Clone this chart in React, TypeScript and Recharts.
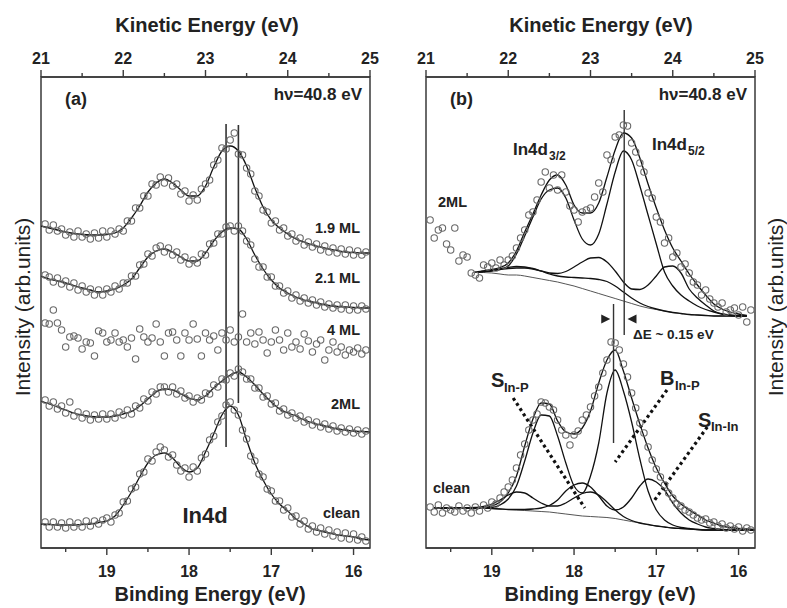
import React from 'react'
import { ComposedChart, Line, Scatter, XAxis, YAxis, ReferenceLine, ReferenceArea, ReferenceDot } from 'recharts'

// binding energy grids (eV)
const fitGrid = [19.8, 19.7, 19.6, 19.5, 19.4, 19.3, 19.2, 19.1, 19, 18.9, 18.8, 18.7, 18.6, 18.5, 18.4, 18.3, 18.2, 18.1, 18, 17.9, 17.8, 17.7, 17.6, 17.5, 17.4, 17.3, 17.2, 17.1, 17, 16.9, 16.8, 16.7, 16.6, 16.5, 16.4, 16.3, 16.2, 16.1, 16, 15.9, 15.8]
const ptGrid = [
  19.75, 19.7, 19.65, 19.6, 19.55, 19.5, 19.45, 19.4, 19.35, 19.3,
  19.25, 19.2, 19.15, 19.1, 19.05, 19, 18.95, 18.9, 18.85, 18.8,
  18.75, 18.7, 18.65, 18.6, 18.55, 18.5, 18.45, 18.4, 18.35, 18.3,
  18.25, 18.2, 18.15, 18.1, 18.05, 18, 17.95, 17.9, 17.85, 17.8,
  17.75, 17.7, 17.65, 17.6, 17.55, 17.5, 17.45, 17.4, 17.35, 17.3,
  17.25, 17.2, 17.15, 17.1, 17.05, 17, 16.95, 16.9, 16.85, 16.8,
  16.75, 16.7, 16.65, 16.6, 16.55, 16.5, 16.45, 16.4, 16.35, 16.3,
  16.25, 16.2, 16.15, 16.1, 16.05, 16, 15.95, 15.9, 15.85,
]
const grid2ML = [19.2, 19.1, 19, 18.9, 18.8, 18.7, 18.6, 18.5, 18.4, 18.3, 18.2, 18.1, 18, 17.9, 17.8, 17.7, 17.6, 17.5, 17.4, 17.3, 17.2, 17.1, 17, 16.9, 16.8, 16.7, 16.6, 16.5, 16.4, 16.3, 16.2, 16.1, 16, 15.9]
const gridClean = [19.7, 19.6, 19.5, 19.4, 19.3, 19.2, 19.1, 19, 18.9, 18.8, 18.7, 18.6, 18.5, 18.4, 18.3, 18.2, 18.1, 18, 17.9, 17.8, 17.7, 17.6, 17.5, 17.4, 17.3, 17.2, 17.1, 17, 16.9, 16.8, 16.7, 16.6, 16.5, 16.4, 16.3, 16.2, 16.1, 16, 15.9, 15.8]

const keTicks = [21, 21.5, 22, 22.5, 23, 23.5, 24, 24.5, 25]
const beTicks = [19.5, 19, 18.5, 18, 17.5, 17, 16.5, 16]

// panel (a): fitted curves
const fit19 = [322, 320, 318, 316, 314.5, 313.5, 313, 313, 313.5, 315, 320, 330, 342, 356, 365, 369, 365, 358, 352, 352, 362, 381, 397, 402, 397, 382, 360, 341, 328, 320, 314, 309, 306, 303, 301, 299, 297.5, 296, 295.5, 295, 295]
const fit21 = [272, 269, 267, 265, 262.5, 260, 258, 256, 257, 259, 263, 269, 280, 291, 297, 299, 296, 291, 287, 287, 295, 307, 316, 320, 319, 309, 293, 279, 268, 260, 255, 251, 248, 246, 244, 242.5, 241.5, 241, 240.5, 240, 240]
const fit2 = [147, 144, 141, 138, 135, 133, 131.5, 131, 131, 132, 134, 136.5, 142, 149, 156, 159, 158, 154, 150, 148, 152, 160, 167, 173, 176, 171, 163, 154, 146, 139, 135, 132, 128, 125, 123, 121, 119, 118, 117, 116.5, 116]
const fitCleanA = [24, 23.5, 23, 23, 23, 23.5, 24, 25.5, 27, 32, 43, 56, 71, 85, 93, 95, 90, 81, 76, 80, 96, 114, 133, 142, 133, 108, 85, 68, 54, 44, 37, 29, 24, 19, 17, 15, 13, 12, 11, 9, 8]

// panel (a): measured points
const pts19 = [324, 318, 323, 317, 319, 313, 316, 311, 317, 311, 314, 309, 315, 310, 317, 311, 317, 314, 319, 317, 327, 327, 340, 340, 352, 352, 364, 363, 371, 365, 370, 362, 364, 354, 357, 347, 353, 348, 359, 364, 368, 383, 388, 400, 399, 408, 415, 394, 393, 380, 374, 357, 352, 338, 336, 325, 327, 318, 320, 312, 314, 307, 310, 303, 306, 301, 304, 298, 302, 296, 300, 295, 299, 294, 298, 293, 297, 293, 296]
const pts21 = [273, 271, 266, 270, 264, 267, 261, 265, 258, 262, 256, 259, 253, 258, 253, 259, 256, 262, 259, 265, 265, 272, 272, 283, 284, 294, 292, 300, 302, 296, 300, 293, 296, 288, 291, 284, 288, 285, 294, 293, 304, 305, 314, 314, 321, 322, 317, 322, 317, 307, 303, 289, 281, 281, 271, 271, 262, 262, 255, 257, 250, 253, 247, 250, 245, 248, 243, 246, 241, 244, 240, 243, 239, 243, 238, 242, 238, 242, 239]
const pts4 = [225, 224, 238, 225, 218, 201, 211, 212, 210, 199, 206, 205, 192, 217, 215, 206, 208, 215, 206, 208, 201, 210, 189, 219, 211, 206, 210, 224, 206, 192, 215, 216, 208, 192, 215, 208, 224, 209, 192, 215, 208, 212, 198, 215, 208, 218, 206, 211, 234, 206, 215, 204, 216, 208, 195, 206, 218, 208, 198, 215, 201, 206, 199, 214, 207, 196, 204, 208, 188, 198, 206, 196, 201, 193, 198, 196, 200, 194, 198]
const pts2 = [148, 142, 146, 139, 142, 135, 146, 132, 136, 130, 134, 128, 133, 129, 134, 129, 134, 130, 136, 133, 138, 134, 142, 140, 149, 147, 156, 154, 161, 161, 156, 161, 154, 157, 150, 152, 146, 150, 148, 155, 154, 163, 161, 169, 168, 175, 172, 179, 176, 169, 169, 160, 160, 151, 152, 144, 145, 137, 139, 133, 135, 130, 132, 126, 128, 123, 126, 121, 124, 119, 122, 117, 120, 116, 119, 115, 118, 114, 117]
const ptsCleanA = [26, 21, 26, 21, 25, 20, 26, 21, 25, 21, 27, 22, 27, 24, 28, 30, 26, 33, 35, 46, 47, 59, 61, 74, 76, 89, 87, 96, 101, 98, 91, 93, 83, 77, 80, 71, 81, 77, 90, 94, 108, 112, 126, 132, 143, 146, 138, 133, 118, 109, 92, 87, 74, 71, 59, 57, 47, 47, 38, 40, 31, 32, 24, 27, 19, 22, 16, 20, 14, 18, 12, 16, 10, 15, 9, 14, 8, 11, 7]

// panel (b): 2ML fit components
const env2ML = [276, 277, 278.5, 280.5, 285, 297, 316, 334, 353, 368, 373, 363, 343, 335, 335, 345, 371, 398, 415, 410, 390, 364, 340, 318, 300, 287, 274, 263, 253, 244, 239, 236, 234, 232.5]
const main2ML = [276, 276.5, 277, 278.5, 282, 294, 312, 331, 349, 358, 360, 350, 328, 309, 303, 314, 344, 376, 397, 388, 362, 333, 304, 276, 262, 253, 247, 242, 238.5, 236, 234, 233, 232.5, 232]
const compA2ML = [276, 276.5, 277.5, 278.5, 279.5, 280, 280, 279, 277, 275, 274.5, 276.5, 281, 286, 290, 290.5, 286, 277, 266, 259, 258.5, 263, 272, 281, 282, 275, 259, 250, 243, 237, 234, 232.5, 232, 232]
const compB2ML = [276, 276.5, 277.5, 279, 280.5, 281.5, 281, 279.5, 277, 274, 272, 271, 270.5, 270, 269.5, 268.5, 266.5, 262, 256, 250, 245, 241.5, 239, 237, 235.5, 234.5, 233.5, 233, 232.5, 232, 232, 232, 232, 232]
const bg2ML = [276, 275.5, 275, 274, 273, 273, 272, 270.5, 269, 267.5, 266, 264, 262, 259.5, 257, 254.5, 252, 249.5, 247, 244.5, 242, 240, 238.5, 237, 235.5, 234.5, 233.5, 233, 232.5, 232, 232, 232, 232, 232]
const pts2MLb = [328, 310, 318, 320, 304, 298, 320, 287, 293, 291, 275, 273, 270, 283, 281, 285, 280, 288, 283, 288, 292, 300, 310, 318, 333, 336, 348, 366, 376, 360, 373, 358, 373, 356, 342, 338, 326, 336, 338, 340, 351, 365, 356, 393, 388, 411, 413, 423, 422, 405, 396, 385, 376, 355, 350, 331, 326, 305, 310, 291, 295, 281, 284, 275, 266, 263, 253, 258, 249, 245, 241, 245, 236, 238, 240, 233, 241, 226, 238]

// panel (b): clean fit components
const envClean = [40, 40, 40, 40, 40, 40, 40.5, 42, 46, 55, 72, 102, 129, 145, 144, 127, 116, 114, 120, 137, 165, 188, 198, 177, 150, 124, 100, 80, 65, 52, 44, 38, 33, 28, 25, 22, 20.5, 19.5, 19, 18.5]
const bInP = [40, 40, 40, 40, 40, 40, 40, 40.5, 43, 49, 62, 87, 115, 133, 132, 112, 85, 62, 55, 72, 105, 155, 178, 157, 126, 89, 57, 38, 28, 23, 20.5, 19.5, 18.5, 18, 18, 18, 18, 18, 18, 18]
const sInP = [40, 40, 40, 40, 40, 40.5, 41.5, 44, 48, 53, 56, 55, 50, 45, 42, 42, 45, 50, 54.5, 56, 53, 46, 38, 31.5, 27.5, 25, 23.5, 22, 21, 20, 19.5, 19, 18.5, 18, 18, 18, 18, 18, 18, 18]
const sInIn = [40, 40, 40, 40, 40, 40, 40, 39.5, 39, 38.5, 38.5, 38.5, 39, 40, 42.5, 48, 57, 63, 65, 61, 52, 42, 38, 41, 50, 62, 69, 66, 58, 45, 35, 28, 24, 21, 19.5, 18.5, 18, 18, 18, 18]
const bgClean = [40, 40, 40, 40, 40, 40, 40, 39.5, 39, 38.5, 38, 37.5, 37, 36.5, 36, 35, 34, 33, 32, 31.5, 31, 30.5, 29.5, 28, 26.5, 25, 23.5, 22, 21, 20, 19.5, 19, 18.5, 18, 18, 18, 18, 18, 18, 18]
const ptsCleanB = [41, 36, 43, 35, 40, 38, 36, 42, 37, 40, 35, 41, 37, 43, 40, 46, 44, 50, 56, 61, 68, 80, 93, 104, 118, 128, 134, 146, 145, 141, 138, 128, 118, 113, 103, 113, 117, 128, 133, 141, 152, 161, 175, 188, 206, 205, 198, 184, 171, 155, 140, 125, 115, 101, 88, 79, 71, 63, 55, 50, 44, 42, 38, 36, 33, 30, 28, 29, 25, 26, 22, 24, 20, 22, 19, 21, 17, 20, 18]

const zip = (xs: number[], ys: number[]) => xs.map((x, i) => ({ x, y: ys[i] }))

const FONT = 'Arial, "Liberation Sans", Helvetica, sans-serif'
const INK = '#222'
const AXIS = '#3a3a3a'

function TopTick(props: any) {
  const { x, y, payload } = props
  const major = Number.isInteger(payload.value)
  return (
    <g>
      <line x1={x} x2={x} y1={y} y2={y - (major ? 7 : 4)} stroke={AXIS} strokeWidth={1.4} />
      {major && (
        <text x={x} y={y - 13} textAnchor="middle" fontSize={16} fontWeight="bold" fill={INK} fontFamily={FONT}>
          {payload.value}
        </text>
      )}
    </g>
  )
}

function BottomTick(props: any) {
  const { x, y, payload } = props
  const major = Number.isInteger(payload.value)
  return (
    <g>
      <line x1={x} x2={x} y1={y} y2={y + (major ? 7 : 4)} stroke={AXIS} strokeWidth={1.4} />
      {major && (
        <text x={x} y={y + 29} textAnchor="middle" fontSize={16} fontWeight="bold" fill={INK} fontFamily={FONT}>
          {payload.value}
        </text>
      )}
    </g>
  )
}

const Ring = (p: any) => <circle cx={p.cx} cy={p.cy} r={3.2} fill="none" stroke="#6a6a6a" strokeWidth={1.1} />
const Nothing = () => <g />

const ArrowRight = (p: any) => (
  <polygon points={`${p.cx},${p.cy} ${p.cx - 9},${p.cy - 4.5} ${p.cx - 9},${p.cy + 4.5}`} fill={INK} />
)
const ArrowLeft = (p: any) => (
  <polygon points={`${p.cx},${p.cy} ${p.cx + 9},${p.cy - 4.5} ${p.cx + 9},${p.cy + 4.5}`} fill={INK} />
)

// the kinetic energy axis carries no spectra, so give it the tick values as invisible anchors
const keAnchors = keTicks.map((k) => ({ x: k, y: 0 }))

function axes() {
  return [
    <XAxis key="ke" xAxisId="ke" dataKey="x" orientation="top" type="number" domain={[21, 25]} ticks={keTicks} interval={0}
      allowDataOverflow height={30} tickLine={false} tickSize={0} tickMargin={0} tick={<TopTick />}
      axisLine={{ stroke: AXIS, strokeWidth: 1.5 }} />,
    <XAxis key="be" xAxisId="be" dataKey="x" type="number" domain={[15.8, 19.8]} reversed ticks={beTicks} interval={0}
      allowDataOverflow height={30} tickLine={false} tickSize={0} tickMargin={0} tick={<BottomTick />}
      axisLine={{ stroke: AXIS, strokeWidth: 1.5 }} />,
    <YAxis key="v" yAxisId="v" dataKey="y" type="number" domain={[0, 471]} allowDataOverflow hide />,
    <ReferenceArea key="frame" xAxisId="be" yAxisId="v" x1={15.8} x2={19.8} y1={0} y2={471}
      fill="none" stroke={AXIS} strokeWidth={1.5} />,
    <Scatter key="keAnchor" xAxisId="ke" yAxisId="v" dataKey="y" data={keAnchors} shape={Nothing} isAnimationActive={false} />,
  ]
}

const lineProps = {
  xAxisId: 'be', yAxisId: 'v', dataKey: 'y', type: 'monotone' as const, dot: false,
  stroke: '#111', strokeWidth: 1.3, isAnimationActive: false, activeDot: false,
}
const dotProps = { xAxisId: 'be', yAxisId: 'v', dataKey: 'y', shape: Ring, isAnimationActive: false }
const dotted = { xAxisId: 'be', yAxisId: 'v', stroke: '#111', strokeWidth: 3.2, strokeDasharray: '3 3.2' }

function PanelA() {
  return (
    <ComposedChart width={393} height={608} margin={{ top: 47, right: 23, bottom: 30, left: 41 }}>
      {axes()}
      <Scatter {...dotProps} data={zip(ptGrid, pts19)} />
      <Scatter {...dotProps} data={zip(ptGrid, pts21)} />
      <Scatter {...dotProps} data={zip(ptGrid, pts4)} />
      <Scatter {...dotProps} data={zip(ptGrid, pts2)} />
      <Scatter {...dotProps} data={zip(ptGrid, ptsCleanA)} />
      <Line {...lineProps} data={zip(fitGrid, fit19)} />
      <Line {...lineProps} data={zip(fitGrid, fit21)} />
      <Line {...lineProps} data={zip(fitGrid, fit2)} />
      <Line {...lineProps} data={zip(fitGrid, fitCleanA)} />
      <ReferenceLine xAxisId="be" yAxisId="v" segment={[{ x: 17.55, y: 424 }, { x: 17.55, y: 101 }]} stroke="#333" strokeWidth={1.6} />
      <ReferenceLine xAxisId="be" yAxisId="v" segment={[{ x: 17.4, y: 423 }, { x: 17.4, y: 145 }]} stroke="#333" strokeWidth={1.6} />
    </ComposedChart>
  )
}

function PanelB() {
  return (
    <ComposedChart width={394} height={608} margin={{ top: 47, right: 32, bottom: 30, left: 33 }}>
      {axes()}
      <Scatter {...dotProps} data={zip(ptGrid, pts2MLb)} />
      <Scatter {...dotProps} data={zip(ptGrid, ptsCleanB)} />
      <Line {...lineProps} data={zip(grid2ML, bg2ML)} stroke="#555" strokeWidth={1} />
      <Line {...lineProps} data={zip(grid2ML, compB2ML)} />
      <Line {...lineProps} data={zip(grid2ML, compA2ML)} />
      <Line {...lineProps} data={zip(grid2ML, main2ML)} />
      <Line {...lineProps} data={zip(grid2ML, env2ML)} />
      <Line {...lineProps} data={zip(gridClean, bgClean)} stroke="#555" strokeWidth={1} />
      <Line {...lineProps} data={zip(gridClean, sInP)} />
      <Line {...lineProps} data={zip(gridClean, sInIn)} />
      <Line {...lineProps} data={zip(gridClean, bInP)} />
      <Line {...lineProps} data={zip(gridClean, envClean)} />
      <ReferenceLine xAxisId="be" yAxisId="v" segment={[{ x: 17.39, y: 438 }, { x: 17.39, y: 213 }]} stroke="#333" strokeWidth={1.4} />
      <ReferenceLine xAxisId="be" yAxisId="v" segment={[{ x: 17.52, y: 244 }, { x: 17.52, y: 105 }]} stroke="#333" strokeWidth={1.4} />
      <ReferenceDot xAxisId="be" yAxisId="v" x={17.56} y={229} r={0} shape={ArrowRight} />
      <ReferenceDot xAxisId="be" yAxisId="v" x={17.35} y={229} r={0} shape={ArrowLeft} />
      <ReferenceLine {...dotted} segment={[{ x: 18.74, y: 150 }, { x: 17.87, y: 40 }]} />
      <ReferenceLine {...dotted} segment={[{ x: 16.87, y: 158 }, { x: 17.5, y: 86 }]} />
      <ReferenceLine {...dotted} segment={[{ x: 16.38, y: 121 }, { x: 17.02, y: 48 }]} />
    </ComposedChart>
  )
}

const T = (p: any) => (
  <text fontFamily={FONT} fill={INK} fontWeight="bold" {...p} />
)

export default function App() {
  return (
    <div style={{ position: 'absolute', left: 0, top: 0, width: 787, height: 608, background: '#fff', overflow: 'hidden' }}>
      <div style={{ position: 'absolute', left: 0, top: 0 }}><PanelA /></div>
      <div style={{ position: 'absolute', left: 393, top: 0 }}><PanelB /></div>
      <svg width={787} height={608} style={{ position: 'absolute', left: 0, top: 0, pointerEvents: 'none' }}>
        <T x={207} y={32} fontSize={20} textAnchor="middle">Kinetic Energy (eV)</T>
        <T x={601} y={32} fontSize={20} textAnchor="middle">Kinetic Energy (eV)</T>
        <T x={210} y={601} fontSize={20} textAnchor="middle">Binding Energy (eV)</T>
        <T x={600} y={601} fontSize={20} textAnchor="middle">Binding Energy (eV)</T>
        <text transform="translate(30,307) rotate(-90)" textAnchor="middle" fontSize={21} fontFamily={FONT} fill={INK}>Intensity (arb.units)</text>
        <text transform="translate(783,307) rotate(-90)" textAnchor="middle" fontSize={21} fontFamily={FONT} fill={INK}>Intensity (arb.units)</text>

        <T x={65} y={105} fontSize={18}>(a)</T>
        <T x={362} y={100} fontSize={17} textAnchor="end">hν=40.8 eV</T>
        <T x={360} y={233} fontSize={14.5} textAnchor="end">1.9 ML</T>
        <T x={360} y={283} fontSize={14.5} textAnchor="end">2.1 ML</T>
        <T x={360} y={335} fontSize={14.5} textAnchor="end">4 ML</T>
        <T x={360} y={409} fontSize={14.5} textAnchor="end">2ML</T>
        <T x={360} y={518} fontSize={14.5} textAnchor="end">clean</T>
        <T x={205} y={523} fontSize={22} textAnchor="middle">In4d</T>

        <T x={450} y={105} fontSize={18}>(b)</T>
        <T x={747} y={100} fontSize={17} textAnchor="end">hν=40.8 eV</T>
        <T x={438} y={207} fontSize={14.5}>2ML</T>
        <T x={433} y={493} fontSize={14.5}>clean</T>
        <T x={513} y={155} fontSize={17}>In4d</T>
        <T x={549} y={160} fontSize={12}>3/2</T>
        <T x={652} y={150} fontSize={17}>In4d</T>
        <T x={688} y={155} fontSize={12}>5/2</T>
        <T x={491} y={387} fontSize={20}>S</T>
        <T x={504} y={392} fontSize={13}>In-P</T>
        <T x={660} y={385} fontSize={20}>B</T>
        <T x={675} y={390} fontSize={13}>In-P</T>
        <T x={698} y={427} fontSize={20}>S</T>
        <T x={711} y={431} fontSize={13}>In-In</T>
        <T x={633} y={339} fontSize={13.5}>ΔE ~ 0.15 eV</T>
      </svg>
    </div>
  )
}
